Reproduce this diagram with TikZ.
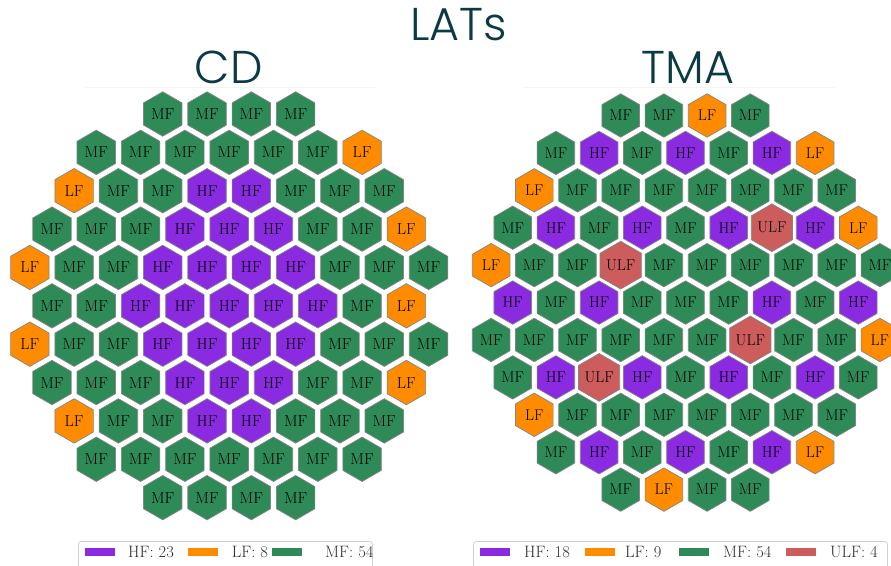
\documentclass[tikz,border=0pt]{standalone}
\usepackage{fontspec}
\newfontfamily\titlefont{Poppins Light}
\usetikzlibrary{shapes.geometric}
\definecolor{fillH}{HTML}{8A2BE2}
\definecolor{fillL}{HTML}{FF8C00}
\definecolor{fillM}{HTML}{2E8B57}
\definecolor{fillU}{HTML}{CD5C5C}
\definecolor{hexborder}{HTML}{858585}
\definecolor{titlecol}{HTML}{0B3A44}
\definecolor{legtext}{HTML}{303030}
\definecolor{legframe}{HTML}{D0D0D0}
\definecolor{faintline}{HTML}{F4F4F4}
\newcommand\labH{HF}
\newcommand\labL{LF}
\newcommand\labM{MF}
\newcommand\labU{ULF}
\newcommand\hexrow[4]{%
  \foreach \c [count=\k] in {#4} {
    \pgfmathsetmacro\hx{\gcx+(\k-(#3+1)/2)*\gd}
    \pgfmathsetmacro\hy{\gy+(#2-1)*\gd*0.8660254}
    \node[hexbase, fill=fill\c] (#1-#2-\k) at (\hx,\hy) {\csname lab\c\endcsname};
  }}
\tikzset{
  hexbase/.style={regular polygon, regular polygon sides=6, shape border rotate=30,
    minimum size=\gsz, inner sep=0pt, draw=hexborder, line width=0.7pt,
    text=black, font=\fontsize{\gfs}{\gfs}\selectfont},
  title/.style={text=titlecol, anchor=base, inner sep=0pt, font=\titlefont\fontsize{46}{46}\selectfont},
  legbox/.style={draw=legframe, line width=0.8pt, rounded corners=3pt, fill=white},
  swatch/.style={minimum width=30pt, minimum height=8pt, inner sep=0pt, draw=none},
  legtxt/.style={anchor=base west, inner sep=0pt, text=legtext, font=\fontsize{16.5}{16.5}\selectfont},
}
\begin{document}
\begin{tikzpicture}[x=1pt, y=-1pt]
\useasboundingbox (0,0) rectangle (891,565);
\clip (0,0) rectangle (891,565);
\fill[white] (0,0) rectangle (891,565);

\node[title] (maintitle) at (458.5,40.7) {LATs};
\node[title] (cdtitle) at (228.7,83.3) {CD};
\node[title] (tmatitle) at (688,83.3) {TMA};

\draw[faintline, line width=0.8pt] (85,87.5) -- (375,87.5);
\draw[faintline, line width=0.8pt] (523,87.5) -- (835,87.5);

% CD grid
\def\gcx{229.2}\def\gy{114}\def\gd{44.3}\def\gsz{44.4pt}\def\gfs{16}
\hexrow{cd}{1}{4}{M,M,M,M}
\hexrow{cd}{2}{7}{M,M,M,M,M,M,L}
\hexrow{cd}{3}{8}{L,M,M,H,H,M,M,M}
\hexrow{cd}{4}{9}{M,M,M,H,H,H,M,M,L}
\hexrow{cd}{5}{10}{L,M,M,H,H,H,H,M,M,M}
\hexrow{cd}{6}{9}{M,M,H,H,H,H,H,M,L}
\hexrow{cd}{7}{10}{L,M,M,H,H,H,H,M,M,M}
\hexrow{cd}{8}{9}{M,M,M,H,H,H,M,M,L}
\hexrow{cd}{9}{8}{L,M,M,H,H,M,M,M}
\hexrow{cd}{10}{7}{M,M,M,M,M,M,M}
\hexrow{cd}{11}{4}{M,M,M,M}

% TMA grid
\def\gcx{685.5}\def\gy{115.5}\def\gd{43.2}\def\gsz{43.4pt}\def\gfs{15.6}
\hexrow{tma}{1}{4}{M,M,L,M}
\hexrow{tma}{2}{7}{M,H,M,H,M,H,L}
\hexrow{tma}{3}{8}{L,M,M,M,M,M,M,M}
\hexrow{tma}{4}{9}{M,H,M,H,M,H,U,H,L}
\hexrow{tma}{5}{10}{L,M,M,U,M,M,M,M,M,M}
\hexrow{tma}{6}{9}{H,M,H,M,M,M,H,M,H}
\hexrow{tma}{7}{10}{M,M,M,M,M,M,U,M,M,L}
\hexrow{tma}{8}{9}{M,H,U,H,M,H,M,H,M}
\hexrow{tma}{9}{8}{L,M,M,M,M,M,M,M}
\hexrow{tma}{10}{7}{M,H,M,H,M,H,L}
\hexrow{tma}{11}{4}{M,L,M,M}

% CD legend
\node[legbox, anchor=north west, minimum width=294pt, minimum height=40pt] (cdlegend) at (78,541) {};
\node[swatch, fill=fillH] (cdswH) at (100,552.2) {};
\node[legtxt] (cdtxH) at (128,557.6) {HF: 23};
\node[swatch, fill=fillL] (cdswL) at (202.7,552.2) {};
\node[legtxt] (cdtxL) at (231.7,557.6) {LF: 8};
\node[swatch, fill=fillM] (cdswM) at (286.7,552.2) {};
\node[legtxt] (cdtxM) at (325,557.6) {MF: 54};

% TMA legend
\node[legbox, anchor=north west, minimum width=414pt, minimum height=40pt] (tmalegend) at (473,541) {};
\node[swatch, fill=fillH] (tmaswH) at (495.4,552.2) {};
\node[legtxt] (tmatxH) at (524,557.6) {HF: 18};
\node[swatch, fill=fillL] (tmaswL) at (599.5,552.2) {};
\node[legtxt] (tmatxL) at (625,557.6) {LF: 9};
\node[swatch, fill=fillM] (tmaswM) at (693.5,552.2) {};
\node[legtxt] (tmatxM) at (723,557.6) {MF: 54};
\node[swatch, fill=fillU] (tmaswU) at (800.5,552.2) {};
\node[legtxt] (tmatxU) at (830,557.6) {ULF: 4};
\end{tikzpicture}
\end{document}
